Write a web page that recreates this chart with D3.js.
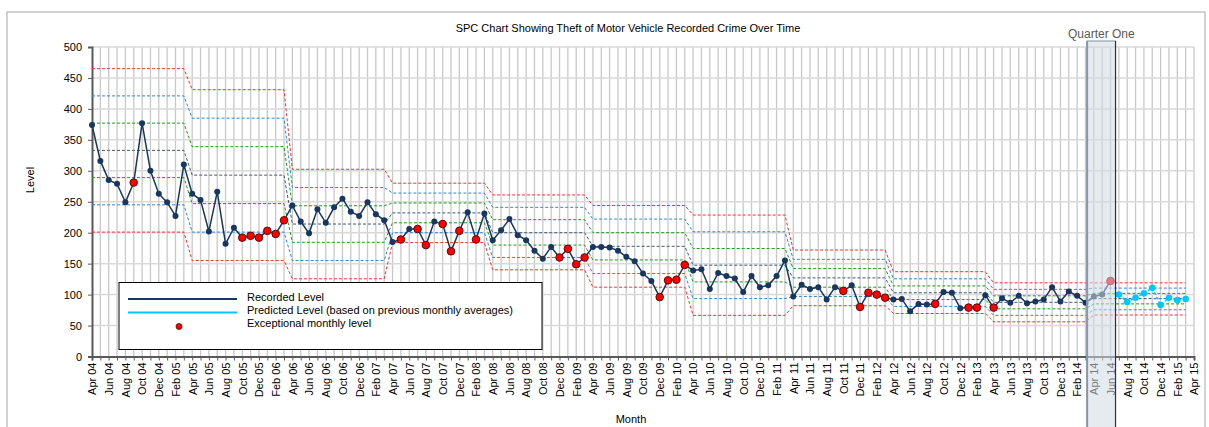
<!DOCTYPE html>
<html>
<head>
<meta charset="utf-8">
<script src="https://cdn.jsdelivr.net/npm/d3@7"></script>
<style>
  body { margin: 0; background: #fff; }
  svg { font-family: "Liberation Sans", Arial, sans-serif; }
</style>
</head>
<body>
<svg width="1209" height="427"></svg>
<script>
// Recorded monthly level, Apr 04 .. Jun 14
const recorded = [374, 316, 285, 279, 249, 281, 377, 300, 263, 249, 227, 310,
  263, 253, 202, 266, 182, 208, 192, 195, 192, 203, 198, 220,
  244, 218, 199, 238, 216, 241, 255, 234, 227, 249, 230, 220,
  185, 189, 206, 206, 180, 218, 214, 170, 203, 233, 189, 231,
  188, 204, 222, 196, 188, 171, 158, 177, 160, 174, 149, 160,
  177, 177, 176, 171, 161, 154, 134, 122, 96, 123, 124, 148,
  139, 141, 109, 135, 130, 126, 104, 130, 112, 115, 130, 155,
  97, 116, 109, 112, 92, 112, 106, 115, 80, 103, 100, 95,
  92, 93, 73, 85, 84, 85, 104, 103, 78, 79, 79, 99,
  79, 94, 87, 98, 86, 89, 92, 112, 89, 105, 98, 87,
  97, 100, 122];
// months (index from Apr 04) flagged as exceptional
const exceptional = [5, 18, 19, 20, 21, 22, 23, 37, 39, 40, 42, 43, 44, 46,
  56, 57, 58, 59, 68, 69, 70, 71, 90, 92, 93, 94, 95, 101, 105, 106, 108, 122];
// Predicted level, Jul 14 .. Mar 15
const predictedStart = 123;
const predicted = [100, 88, 95, 102, 111, 83, 95, 91, 93];

// control lines, one value per financial year (Apr..Mar)
const upper3 = [465, 431, 302.5, 280, 261, 244, 228.5, 172, 137, 119, 119];
const upper2 = [421, 385, 273, 264, 241, 222, 201.5, 157, 125.5, 108.5, 110.5];
const upper1 = [377, 339, 243.5, 248, 221, 200, 174.5, 142, 114, 98, 102];
const centre = [333, 293, 214, 232, 200, 178, 147.5, 127, 103, 87.5, 93.5];
const lower1 = [289, 247, 184.5, 216, 180, 156, 120.5, 112, 92, 77, 85];
const lower2 = [245, 201, 155, 200, 160, 134, 93.5, 97, 81, 66.5, 75.5];
const lower3 = [201, 155, 125.5, 184, 140, 112, 66.5, 82, 69.5, 56, 67];

const tickLabels = ["Apr 04","Jun 04","Aug 04","Oct 04","Dec 04","Feb 05",
  "Apr 05","Jun 05","Aug 05","Oct 05","Dec 05","Feb 06",
  "Apr 06","Jun 06","Aug 06","Oct 06","Dec 06","Feb 07",
  "Apr 07","Jun 07","Aug 07","Oct 07","Dec 07","Feb 08",
  "Apr 08","Jun 08","Aug 08","Oct 08","Dec 08","Feb 09",
  "Apr 09","Jun 09","Aug 09","Oct 09","Dec 09","Feb 10",
  "Apr 10","Jun 10","Aug 10","Oct 10","Dec 10","Feb 11",
  "Apr 11","Jun 11","Aug 11","Oct 11","Dec 11","Feb 12",
  "Apr 12","Jun 12","Aug 12","Oct 12","Dec 12","Feb 13",
  "Apr 13","Jun 13","Aug 13","Oct 13","Dec 13","Feb 14",
  "Apr 14","Jun 14","Aug 14","Oct 14","Dec 14","Feb 15","Apr 15"];
const yTicks = [0, 50, 100, 150, 200, 250, 300, 350, 400, 450, 500];
const nMonths = 132;
const quarter = [119.2, 122.6];

const svg = d3.select("svg");
const x = d3.scaleLinear().domain([0, nMonths]).range([92, 1194]);
const y = d3.scaleLinear().domain([0, 500]).range([356.5, 47]);

// outer chart border
svg.append("rect").attr("x", 7).attr("y", 12).attr("width", 1198).attr("height", 430)
  .attr("fill", "none").attr("stroke", "#a6a6a6").attr("stroke-width", 1);

// title
svg.append("text").attr("x", 628).attr("y", 32).attr("text-anchor", "middle")
  .attr("font-size", "11px").attr("fill", "#000")
  .text("SPC Chart Showing Theft of Motor Vehicle Recorded Crime Over Time");

// gridlines
svg.append("g").selectAll("line").data(d3.range(1, nMonths + 1)).join("line")
  .attr("x1", d => x(d)).attr("x2", d => x(d))
  .attr("y1", y(500)).attr("y2", y(0))
  .attr("stroke", "#c8c8c8").attr("stroke-width", 1.3);
svg.append("g").selectAll("line").data(yTicks.slice(1)).join("line")
  .attr("x1", x(0)).attr("x2", x(nMonths))
  .attr("y1", d => y(d)).attr("y2", d => y(d))
  .attr("stroke", "#d9d9d9").attr("stroke-width", 1.5);

// axes
const yAxis = svg.append("g").attr("transform", `translate(${x(0)},0)`)
  .call(d3.axisLeft(y).tickValues(yTicks).tickSize(4).tickPadding(6));
yAxis.select(".domain").attr("stroke", "#595959").attr("stroke-width", 2);
yAxis.selectAll(".tick line").attr("stroke", "#595959");
yAxis.selectAll("text").attr("font-size", "11px").attr("fill", "#000")
  .attr("font-family", "Liberation Sans, Arial, sans-serif");

const xAxis = svg.append("g").attr("transform", `translate(0,${y(0)})`)
  .call(d3.axisBottom(x).tickValues(d3.range(0, nMonths + 1)).tickSize(4)
    .tickFormat(d => d % 2 === 0 ? tickLabels[d / 2] : ""));
xAxis.select(".domain").attr("stroke", "#595959").attr("stroke-width", 2);
xAxis.selectAll(".tick line").attr("stroke", "#595959");
xAxis.selectAll("text")
  .attr("font-size", "11px").attr("fill", "#000")
  .attr("font-family", "Liberation Sans, Arial, sans-serif")
  .attr("text-anchor", "end")
  .attr("transform", "rotate(-90)")
  .attr("x", -6).attr("y", 0).attr("dy", "0.35em");

// axis titles
svg.append("text").attr("transform", "translate(34,180) rotate(-90)")
  .attr("text-anchor", "middle").attr("font-size", "11px").text("Level");
svg.append("text").attr("x", 631).attr("y", 423)
  .attr("text-anchor", "middle").attr("font-size", "11px").text("Month");

// control lines
const monthly = arr => d3.range(0, nMonths).map(i => ({ i, v: arr[Math.floor(i / 12)] }));
const lineGen = d3.line().x(d => x(d.i)).y(d => y(d.v));
const limits = [
  [upper3, "#ff2b2b"], [lower3, "#ff2b2b"],
  [upper2, "#2f86d8"], [lower2, "#2f86d8"],
  [upper1, "#1d9a1d"], [lower1, "#1d9a1d"],
  [centre, "#3b5877"]
];
limits.forEach(([arr, col]) => {
  svg.append("path").datum(monthly(arr)).attr("d", lineGen)
    .attr("fill", "none").attr("stroke", col).attr("stroke-width", 1)
    .attr("stroke-dasharray", "3,2");
});

// recorded line
const rec = recorded.map((v, i) => ({ i, v }));
svg.append("path").datum(rec).attr("d", lineGen)
  .attr("fill", "none").attr("stroke", "#17375e").attr("stroke-width", 1.5);
svg.append("g").selectAll("circle").data(rec.filter(d => !exceptional.includes(d.i))).join("circle")
  .attr("cx", d => x(d.i)).attr("cy", d => y(d.v)).attr("r", 3)
  .attr("fill", "#17375e");
svg.append("g").selectAll("circle").data(rec.filter(d => exceptional.includes(d.i))).join("circle")
  .attr("cx", d => x(d.i)).attr("cy", d => y(d.v)).attr("r", 3.8)
  .attr("fill", "#ff0000").attr("stroke", "#5a0a0a").attr("stroke-width", 1);

// predicted line
const pred = predicted.map((v, k) => ({ i: predictedStart + k, v }));
svg.append("path").datum(pred).attr("d", lineGen)
  .attr("fill", "none").attr("stroke", "#00c8f8").attr("stroke-width", 1.5)
  .attr("stroke-dasharray", "3,2");
svg.append("g").selectAll("circle").data(pred).join("circle")
  .attr("cx", d => x(d.i)).attr("cy", d => y(d.v)).attr("r", 3.3)
  .attr("fill", "#00c8f8");

// legend
const lg = svg.append("g");
lg.append("rect").attr("x", 119).attr("y", 282.5).attr("width", 423).attr("height", 67)
  .attr("fill", "#fff").attr("stroke", "#000").attr("stroke-width", 1);
lg.append("line").attr("x1", 128).attr("x2", 237).attr("y1", 299).attr("y2", 299)
  .attr("stroke", "#17375e").attr("stroke-width", 2);
lg.append("line").attr("x1", 128).attr("x2", 237).attr("y1", 312.5).attr("y2", 312.5)
  .attr("stroke", "#00c8f8").attr("stroke-width", 2);
lg.append("circle").attr("cx", 179).attr("cy", 326.5).attr("r", 3)
  .attr("fill", "#ff0000").attr("stroke", "#5a0a0a").attr("stroke-width", 0.8);
const legendText = ["Recorded Level", "Predicted Level (based on previous monthly averages)", "Exceptional monthly level"];
lg.selectAll("text").data(legendText).join("text")
  .attr("x", 247).attr("y", (d, k) => 300.5 + k * 13)
  .attr("font-size", "11px").attr("fill", "#000").text(d => d);

// quarter one highlight
const qx0 = x(quarter[0]), qx1 = x(quarter[1]);
svg.append("rect").attr("x", qx0).attr("y", 41)
  .attr("width", qx1 - qx0).attr("height", 400)
  .attr("fill", "rgba(210,218,228,0.55)").attr("stroke", "#7f8fa3").attr("stroke-width", 1);
svg.append("line").attr("x1", qx0).attr("x2", qx0).attr("y1", 41).attr("y2", 427)
  .attr("stroke", "#8797aa").attr("stroke-width", 2);
svg.append("line").attr("x1", qx1).attr("x2", qx1).attr("y1", 41).attr("y2", 427)
  .attr("stroke", "#1f3350").attr("stroke-width", 1.2);
svg.append("text").attr("x", (qx0 + qx1) / 2).attr("y", 38)
  .attr("text-anchor", "middle").attr("font-size", "12px").attr("fill", "#595959")
  .text("Quarter One");
</script>
</body>
</html>
